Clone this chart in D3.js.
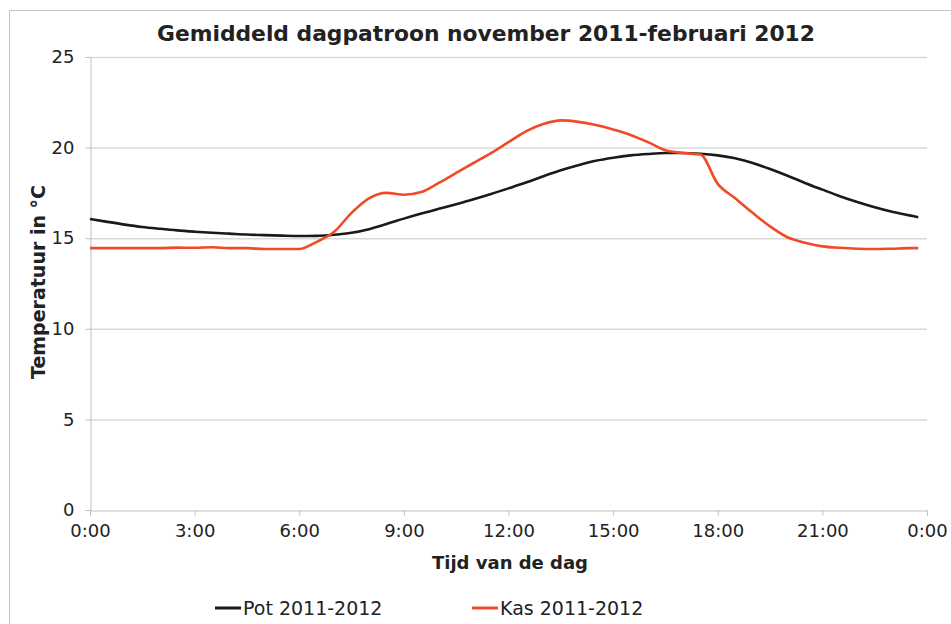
<!DOCTYPE html>
<html>
<head>
<meta charset="utf-8">
<script src="https://cdn.jsdelivr.net/npm/d3@7"></script>
<style>
  body { margin: 0; background: #fff; }
  text { font-family: "DejaVu Sans", Verdana, sans-serif; fill: #222; }
</style>
</head>
<body>
<div id="chart"></div>
<script>
// half-hour steps, last sample at 23:45
const hours = [0, 0.5, 1, 1.5, 2, 2.5, 3, 3.5, 4, 4.5, 5, 5.5, 6, 6.5, 7, 7.5, 8, 8.5, 9, 9.5,
  10, 10.5, 11, 11.5, 12, 12.5, 13, 13.5, 14, 14.5, 15, 15.5, 16, 16.5, 17, 17.5, 18, 18.5, 19, 19.5,
  20, 20.5, 21, 21.5, 22, 22.5, 23, 23.5, 23.75];

const pot = [16.06, 15.9, 15.75, 15.62, 15.52, 15.43, 15.36, 15.3, 15.25, 15.2, 15.17, 15.14, 15.12, 15.13, 15.19, 15.3, 15.5, 15.78, 16.08, 16.36,
  16.62, 16.88, 17.15, 17.44, 17.75, 18.07, 18.42, 18.75, 19.03, 19.27, 19.44, 19.57, 19.65, 19.7, 19.7, 19.66, 19.57, 19.41, 19.15, 18.82,
  18.45, 18.05, 17.68, 17.32, 17.0, 16.71, 16.46, 16.26, 16.16];

const kas = [14.45, 14.45, 14.45, 14.45, 14.45, 14.48, 14.47, 14.5, 14.45, 14.45, 14.4, 14.4, 14.4, 14.8, 15.35, 16.4, 17.2, 17.5, 17.4, 17.55,
  18.05, 18.6, 19.15, 19.7, 20.3, 20.9, 21.3, 21.5, 21.42, 21.25, 21.0, 20.7, 20.3, 19.85, 19.7, 19.62, 18.0, 17.2, 16.4, 15.65,
  15.05, 14.75, 14.55, 14.47, 14.42, 14.4, 14.42, 14.45, 14.45];

const yTicks = [0, 5, 10, 15, 20, 25];
const xTicks = [0, 3, 6, 9, 12, 15, 18, 21, 24];
const xTickLabels = ['0:00', '3:00', '6:00', '9:00', '12:00', '15:00', '18:00', '21:00', '0:00'];

const series = [
  { name: 'Pot 2011-2012', values: pot, color: '#1a1a1a' },
  { name: 'Kas 2011-2012', values: kas, color: '#f04a28' }
];

const width = 951, height = 624;
const margin = { left: 90, right: 24, top: 57, bottom: 114 };

const svg = d3.select('#chart')
  .append('svg')
  .attr('width', width)
  .attr('height', height);

// outer frame
svg.append('rect')
  .attr('x', 9.5).attr('y', 10.5)
  .attr('width', 1000).attr('height', 700)
  .attr('fill', 'none')
  .attr('stroke', '#c4c4c4');

const x = d3.scaleLinear().domain([0, 24]).range([margin.left, width - margin.right]);
const y = d3.scaleLinear().domain([0, 25]).range([height - margin.bottom, margin.top]);

// gridlines
svg.append('g')
  .selectAll('line')
  .data(yTicks.filter(d => d > 0))
  .enter().append('line')
  .attr('x1', x(0)).attr('x2', x(24))
  .attr('y1', d => y(d) + 0.5).attr('y2', d => y(d) + 0.5)
  .attr('stroke', '#d9d9d9')
  .attr('stroke-width', 1.5);

// y axis
const yAxis = svg.append('g')
  .attr('transform', `translate(${x(0) + 0.5},0)`)
  .call(d3.axisLeft(y).tickValues(yTicks).tickSize(5).tickPadding(11));
yAxis.select('.domain').attr('stroke', '#bfbfbf');
yAxis.selectAll('.tick line').attr('stroke', '#bfbfbf');
yAxis.selectAll('.tick text')
  .attr('font-size', 18)
  .attr('font-family', '"DejaVu Sans", sans-serif')
  .attr('fill', '#222');

// x axis
const xAxis = svg.append('g')
  .attr('transform', `translate(0,${y(0) + 0.5})`)
  .call(d3.axisBottom(x).tickValues(xTicks).tickSize(5).tickPadding(9)
    .tickFormat((d, i) => xTickLabels[i]));
xAxis.select('.domain').attr('stroke', '#bfbfbf');
xAxis.selectAll('.tick line').attr('stroke', '#bfbfbf');
xAxis.selectAll('.tick text')
  .attr('font-size', 18)
  .attr('font-family', '"DejaVu Sans", sans-serif')
  .attr('fill', '#222');

// lines
const line = d3.line()
  .x((d, i) => x(hours[i]))
  .y(d => y(d))
  .curve(d3.curveMonotoneX);

svg.append('g')
  .selectAll('path')
  .data(series)
  .enter().append('path')
  .attr('d', d => line(d.values))
  .attr('fill', 'none')
  .attr('stroke', d => d.color)
  .attr('stroke-width', 2.6)
  .attr('stroke-linejoin', 'round');

// title
svg.append('text')
  .attr('x', 486).attr('y', 41)
  .attr('text-anchor', 'middle')
  .attr('font-size', 21.8)
  .attr('font-weight', 'bold')
  .text('Gemiddeld dagpatroon november 2011-februari 2012');

// axis titles
svg.append('text')
  .attr('transform', 'translate(45,282) rotate(-90)')
  .attr('text-anchor', 'middle')
  .attr('font-size', 19)
  .attr('font-weight', 'bold')
  .text('Temperatuur in °C');

svg.append('text')
  .attr('x', 510).attr('y', 569)
  .attr('text-anchor', 'middle')
  .attr('font-size', 18)
  .attr('font-weight', 'bold')
  .text('Tijd van de dag');

// legend
const legend = svg.append('g')
  .selectAll('g')
  .data(series)
  .enter().append('g')
  .attr('transform', (d, i) => `translate(${215 + i * 257},608)`);

legend.append('line')
  .attr('x1', 0).attr('x2', 26)
  .attr('stroke', d => d.color)
  .attr('stroke-width', 3);

legend.append('text')
  .attr('x', 28).attr('y', 7)
  .attr('font-size', 19)
  .text(d => d.name);
</script>
</body>
</html>
